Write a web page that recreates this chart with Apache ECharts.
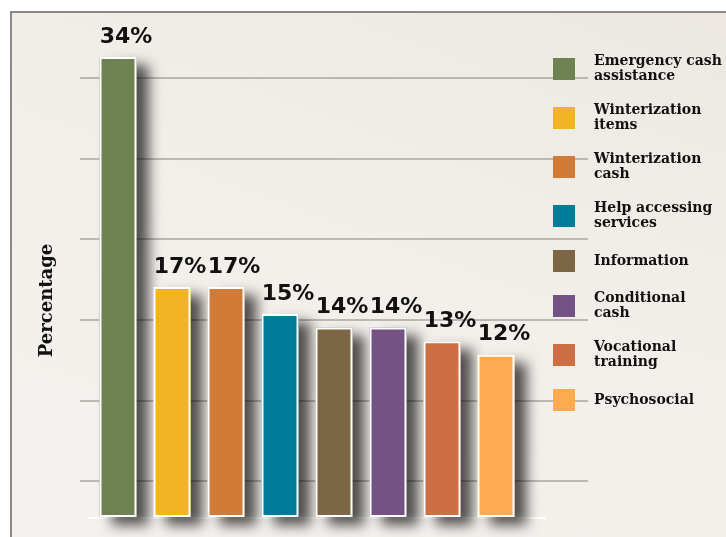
<!DOCTYPE html>
<html>
<head>
<meta charset="utf-8">
<script src="https://cdn.jsdelivr.net/npm/echarts@6/dist/echarts.min.js"></script>
<style>
  html, body { margin: 0; padding: 0; background: #fff; }
  .frame {
    position: absolute; left: 10px; top: 11px; width: 716px; height: 526px;
    border-left: 2px solid #8d8883; border-top: 2px solid #8d8883;
    background: linear-gradient(200deg, #ece8e1 0%, #f2efea 45%, #f4f2ee 100%);
  }
  #chart { position: absolute; left: 0; top: 0; width: 726px; height: 537px; }
</style>
</head>
<body>
<div class="frame"></div>
<div id="chart"></div>
<script>
// categories / legend text
const categories = ['Emergency cash assistance', 'Winterization items', 'Winterization cash',
  'Help accessing services', 'Information', 'Conditional cash', 'Vocational training', 'Psychosocial'];
const legendNames = ['Emergency cash\nassistance', 'Winterization\nitems', 'Winterization\ncash',
  'Help accessing\nservices', 'Information', 'Conditional\ncash', 'Vocational\ntraining', 'Psychosocial'];
// percentages
const values = [34, 17, 17, 15, 14, 14, 13, 12];
const colors = ['#6f8352', '#f3b423', '#d07b38', '#027b99', '#7c6646', '#745384', '#ce6e45', '#fdaa51'];

const chart = echarts.init(document.getElementById('chart'));

// shadow layer under the coloured bars (so the white border doesn't cast onto the fill)
const shadowSeries = {
  name: 'shadow',
  type: 'bar',
  xAxisIndex: 0,
  yAxisIndex: 0,
  barWidth: 37,
  barGap: '-100%',
  z: 2,
  silent: true,
  data: values,
  itemStyle: {
    color: (p) => colors[p.dataIndex],
    shadowColor: 'rgba(0,0,0,0.68)',
    shadowBlur: 13,
    shadowOffsetX: 12,
    shadowOffsetY: 8
  }
};

// one series per category so the legend gets one square each
const barSeries = categories.map((c, i) => ({
  name: legendNames[i],
  type: 'bar',
  xAxisIndex: 0,
  yAxisIndex: 0,
  barWidth: 37,
  barGap: '-100%',
  z: 3,
  data: values.map((v, j) => (j === i ? v : '-')),
  itemStyle: {
    color: colors[i],
    borderColor: '#ffffff',
    borderWidth: 2
  },
  label: {
    show: true,
    position: 'top',
    distance: 9,
    offset: [8, 0],
    formatter: '{c}%',
    fontFamily: 'DejaVu Sans',
    fontWeight: 'bold',
    fontSize: 22,
    color: '#111'
  }
}));

chart.setOption({
  animation: false,
  backgroundColor: 'transparent',
  grid: [
    { left: 91, width: 432, top: 30, bottom: 20 },   // bars
    { left: 80, right: 138, top: 78, bottom: 56 },   // gridlines
    { left: 89, right: 181, top: 83, bottom: 19 }    // baseline + axis title
  ],
  xAxis: [
    { gridIndex: 0, type: 'category', data: categories, show: false },
    { gridIndex: 1, type: 'value', min: 0, max: 1, show: false },
    {
      gridIndex: 2, type: 'value', min: 0, max: 1,
      axisLine: { show: true, lineStyle: { color: '#ffffff', width: 2 } },
      axisTick: { show: false }, axisLabel: { show: false }, splitLine: { show: false }
    }
  ],
  yAxis: [
    { gridIndex: 0, type: 'value', min: 0, max: 36, show: false },
    {
      gridIndex: 1, type: 'value', min: 0, max: 5, interval: 1,
      axisLine: { show: false }, axisTick: { show: false }, axisLabel: { show: false },
      splitLine: { show: true, lineStyle: { color: '#a9a6a1', width: 1.5 } }
    },
    {
      gridIndex: 2, type: 'value', min: 0, max: 1,
      name: 'Percentage', nameLocation: 'middle', nameRotate: 90, nameGap: 33,
      nameTextStyle: { fontFamily: 'DejaVu Serif', fontWeight: 'bold', fontSize: 18, color: '#111' },
      axisLine: { show: false }, axisTick: { show: false }, axisLabel: { show: false },
      splitLine: { show: false }
    }
  ],
  legend: {
    orient: 'vertical',
    left: 553,
    top: 54,
    padding: 0,
    itemWidth: 22,
    itemHeight: 22,
    itemGap: 19,
    icon: 'rect',
    selectedMode: false,
    itemStyle: { borderWidth: 0, shadowBlur: 0, shadowColor: 'transparent' },
    textStyle: {
      fontFamily: 'DejaVu Serif',
      fontWeight: 'bold',
      fontSize: 14,
      lineHeight: 15,
      color: '#111',
      padding: [0, 0, 0, 14]
    },
    data: legendNames
  },
  series: [shadowSeries].concat(barSeries)
});
</script>
</body>
</html>
